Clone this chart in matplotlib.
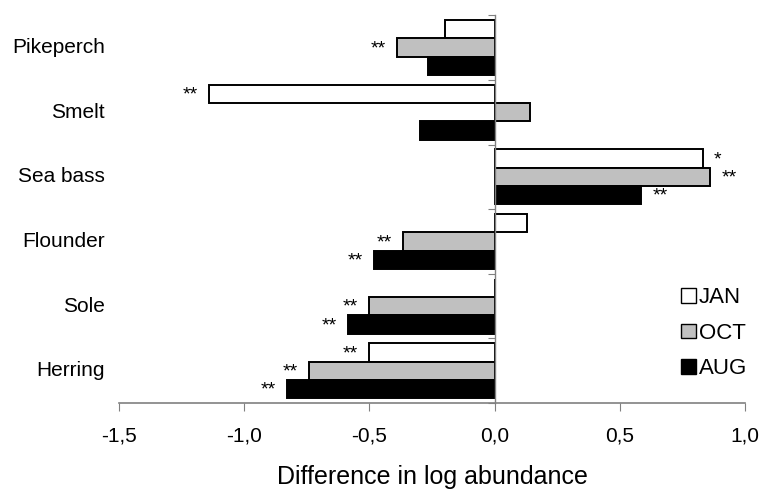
import numpy as np
import matplotlib
matplotlib.use("Agg")
from matplotlib import pyplot as plt
from matplotlib.ticker import FixedLocator, FuncFormatter
from matplotlib.patches import Patch

# Data (top to bottom)
species = ["Pikeperch", "Smelt", "Sea bass", "Flounder", "Sole", "Herring"]
series = ["JAN", "OCT", "AUG"]
jan = [-0.20, -1.14, 0.83, 0.13, 0.0, -0.50]
octo = [-0.39, 0.14, 0.86, -0.365, -0.50, -0.74]
aug = [-0.265, -0.30, 0.585, -0.48, -0.585, -0.83]
sig_jan = ["", "**", "*", "", "", "**"]
sig_oct = ["**", "", "**", "**", "**", "**"]
sig_aug = ["", "", "**", "**", "**", "**"]

values = [jan, octo, aug]
sigs = [sig_jan, sig_oct, sig_aug]
colors = ["white", "#c0c0c0", "black"]

plt.rcParams["font.family"] = ["Liberation Sans", "DejaVu Sans"]

fig = plt.figure(figsize=(7.62, 4.91), dpi=100)
ax = fig.add_axes([0.156, 0.179, 0.822, 0.790])

n = len(species)
bar_h = 0.283
centers = np.arange(n)[::-1] + 0.5  # Pikeperch at top

for i, (vals, sg, col) in enumerate(zip(values, sigs, colors)):
    y = centers + (1 - i) * bar_h
    ax.barh(y, vals, height=bar_h, color=col, edgecolor="black", linewidth=1.4)
    for yy, v, s in zip(y, vals, sg):
        if not s:
            continue
        if v < 0:
            ax.text(v - 0.045, yy - 0.02, s, ha="right", va="center", fontsize=14)
        else:
            ax.text(v + 0.045, yy - 0.02, s, ha="left", va="center", fontsize=14)

ax.set_xlim(-1.5, 1.0)
ax.set_ylim(0, n)

# axis styling
for side in ["top", "right"]:
    ax.spines[side].set_visible(False)
ax.spines["left"].set_position(("data", 0))
ax.spines["left"].set_color("#808080")
ax.spines["bottom"].set_color("#808080")
ax.spines["left"].set_linewidth(1.0)
ax.spines["bottom"].set_linewidth(1.2)

ax.set_xticks(np.arange(-1.5, 1.01, 0.5))
ax.xaxis.set_major_formatter(FuncFormatter(lambda v, p: f"{v:.1f}".replace(".", ",")))
ax.tick_params(axis="x", direction="out", length=6, color="#808080", labelsize=15, pad=11)

ax.yaxis.set_major_locator(FixedLocator(np.arange(n + 1)))
ax.tick_params(axis="y", direction="out", length=5, color="#808080", labelleft=False)

for c, name in zip(centers, species):
    ax.text(-0.022, c, name, transform=ax.get_yaxis_transform(), ha="right",
            va="center", fontsize=15)

ax.set_xlabel("Difference in log abundance", fontsize=18, labelpad=14)

handles = [Patch(facecolor=c, edgecolor="black", linewidth=1.0) for c in colors]
ax.legend(handles, series, loc="lower right", bbox_to_anchor=(1.035, 0.01),
          frameon=False, fontsize=16, handlelength=0.65, handleheight=0.65,
          handletextpad=0.15, labelspacing=0.65)

plt.savefig("out.png", dpi=100)
plt.close()
